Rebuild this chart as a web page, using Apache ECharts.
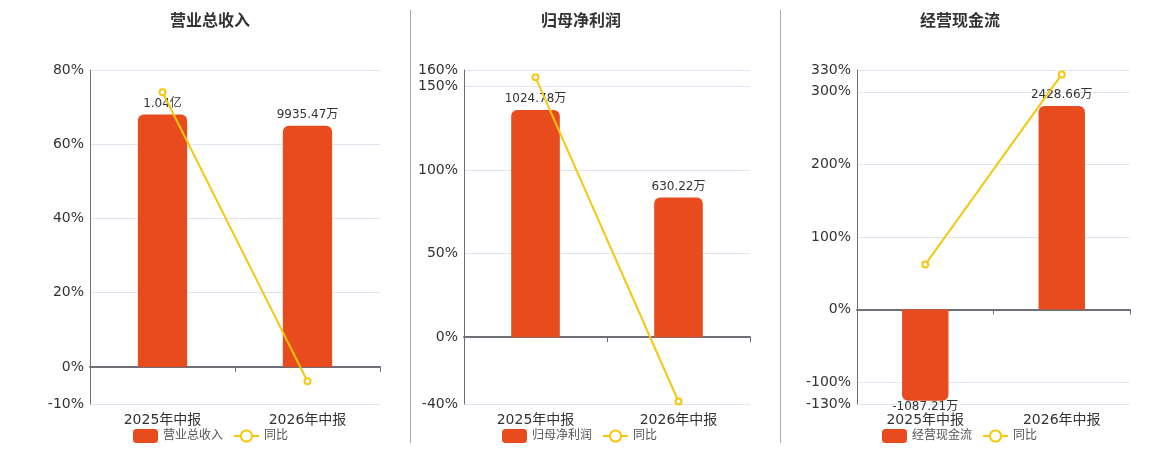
<!DOCTYPE html>
<html>
<head>
<meta charset="utf-8">
<script src="https://cdn.jsdelivr.net/npm/echarts@6/dist/echarts.min.js"></script>
<style>
  html, body { margin: 0; padding: 0; background: #fff; }
  #chartId { width: 1160px; height: 450px; }
</style>
</head>
<body>
<div id="chartId"></div>
<script>
const categories = ['2025年中报', '2026年中报'];
const titles = ['营业总收入', '归母净利润', '经营现金流'];

// 柱子数值（万元）
const revenueData = [10400, 9935.47];
const profitData = [1024.78, 630.22];
const cashData = [-1087.21, 2428.66];

// 同比（%）
const revenueYoy = [74.0, -3.9];
const profitYoy = [155.6, -38.5];
const cashYoy = [62.0, 323.9];

// 左轴范围
const pctRanges = [[-10, 80], [-40, 160], [-130, 330]];

const barColor = '#e84c1e';
const lineColor = '#f5c70f';
const fontFamily = "'DejaVu Sans', 'Noto Sans CJK SC', sans-serif";

const grids = [
  { left: 90, top: 70, width: 290, height: 334 },
  { left: 464, top: 70, width: 286, height: 334 },
  { left: 857, top: 70, width: 273, height: 334 },
];
const titleCenters = [210, 581, 960];
const legendLefts = [133, 502, 882];

const formatMoney = (v) => {
  const abs = Math.abs(v);
  if (abs >= 10000) return (v / 10000).toFixed(2) + '亿';
  return v.toFixed(2) + '万';
};

const buildOption = () => {
  const panels = [
    { bars: revenueData, yoy: revenueYoy },
    { bars: profitData, yoy: profitYoy },
    { bars: cashData, yoy: cashYoy },
  ];
  const option = {
    animation: false,
    textStyle: { fontFamily },
    title: [],
    legend: [],
    grid: grids,
    xAxis: [],
    yAxis: [],
    series: [],
    graphic: [410.5, 780.5].map(x => ({
      type: 'line',
      shape: { x1: x, y1: 10, x2: x, y2: 443 },
      style: { stroke: '#aaa', lineWidth: 1 },
    })),
  };

  panels.forEach((p, i) => {
    const [pMin, pMax] = pctRanges[i];
    // 柱子单独一根隐藏轴，零点与左轴对齐
    const barMax = Math.max(...p.bars.map(Math.abs)) / 0.85;
    const barMin = barMax * pMin / pMax;

    option.title.push({
      text: titles[i],
      left: titleCenters[i],
      top: 14,
      padding: 0,
      textAlign: 'center',
      textStyle: { fontSize: 16, fontWeight: 'bold', color: '#333', fontFamily },
    });
    option.legend.push({
      left: legendLefts[i],
      top: 429,
      padding: 0,
      itemWidth: 25,
      itemHeight: 14,
      itemGap: 10,
      data: [titles[i], '同比'],
      textStyle: { fontSize: 12, color: '#555', fontFamily },
    });
    option.xAxis.push({
      type: 'category',
      gridIndex: i,
      data: categories,
      axisLine: { onZero: true, onZeroAxisIndex: i * 2, lineStyle: { color: '#6e7079', width: 2 } },
      axisTick: { show: true, length: 5, lineStyle: { color: '#6e7079' } },
      axisLabel: { fontSize: 14, color: '#333', margin: 9, fontFamily },
    });
    option.yAxis.push({
      type: 'value',
      gridIndex: i,
      min: pMin,
      max: pMax,
      splitNumber: 5,
      axisLine: { show: true, onZero: false, lineStyle: { color: '#6e7079' } },
      axisTick: { show: false },
      axisLabel: { fontSize: 14, color: '#333', margin: 6, formatter: '{value}%', fontFamily },
      splitLine: { lineStyle: { color: '#e0e6f1' } },
    });
    option.yAxis.push({
      type: 'value',
      gridIndex: i,
      min: barMin,
      max: barMax,
      show: false,
      splitLine: { show: false },
    });
    option.series.push({
      name: titles[i],
      type: 'bar',
      xAxisIndex: i,
      yAxisIndex: i * 2 + 1,
      barWidth: '34%',
      data: p.bars.map(v => ({
        value: v,
        itemStyle: { borderRadius: v < 0 ? [0, 0, 6, 6] : [6, 6, 0, 0] },
        label: { distance: v < 0 ? 0 : 5 },
      })),
      itemStyle: { color: barColor },
      label: {
        show: true,
        position: 'outside',
        fontSize: 12,
        color: '#333',
        fontFamily,
        formatter: (params) => formatMoney(params.value),
      },
      z: 2,
    });
    option.series.push({
      name: '同比',
      type: 'line',
      xAxisIndex: i,
      yAxisIndex: i * 2,
      data: p.yoy,
      symbol: 'emptyCircle',
      symbolSize: 6,
      itemStyle: { color: lineColor },
      lineStyle: { color: lineColor, width: 2 },
      z: 3,
    });
  });
  return option;
};

const chart = echarts.init(document.getElementById('chartId'));
chart.setOption(buildOption());
</script>
</body>
</html>
